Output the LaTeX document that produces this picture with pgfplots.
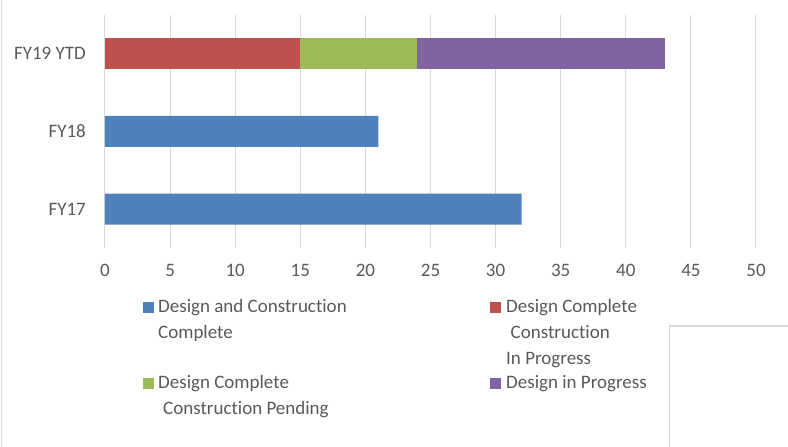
\documentclass[border=0pt]{standalone}
\usepackage{fontspec}
\setmainfont{Carlito}[Ligatures=CommonOff]
\usepackage{pgfplots}
\pgfplotsset{compat=1.18}
\definecolor{cBlue}{HTML}{4F81BD}
\definecolor{cRed}{HTML}{C0504D}
\definecolor{cGreen}{HTML}{9BBB59}
\definecolor{cPurple}{HTML}{8064A2}
\definecolor{gridc}{HTML}{D9D9D9}
\definecolor{textc}{HTML}{595959}
\begin{document}
\begin{tikzpicture}[x=1pt,y=1pt,font=\fontsize{19}{25.7}\selectfont]
\path[use as bounding box] (0,0) rectangle (788,447);
\draw[gridc, line width=1.2pt] (1.5,0) -- (1.5,447);
\draw[gridc, line width=1.5pt] (669.5,0) -- (669.5,121) -- (790,121);
\begin{axis}[
  at={(105pt,199pt)}, anchor=south west,
  scale only axis, width=651pt, height=233pt,
  xmin=0, xmax=50, ymin=-0.5, ymax=2.5,
  xbar stacked, bar width=31pt,
  xtick={0,5,...,50}, ytick={0,1,2},
  yticklabels={FY17,FY18,FY19 YTD},
  xmajorgrids, grid style={gridc, line width=1pt},
  axis line style={draw=none}, tick style={draw=none},
  ticklabel style={font=\fontsize{19}{22}\selectfont, text=textc, inner sep=0pt},
  xticklabel style={anchor=north, yshift=-16pt},
  yticklabel style={anchor=east, xshift=-19pt},
  /pgf/number format/assume math mode=true,
]
\addplot[fill=cBlue, draw=none] coordinates {(32,0) (21,1) (0,2)};
\addplot[fill=cRed, draw=none] coordinates {(0,0) (0,1) (15,2)};
\addplot[fill=cGreen, draw=none] coordinates {(0,0) (0,1) (9,2)};
\addplot[fill=cPurple, draw=none] coordinates {(0,0) (0,1) (19,2)};
\end{axis}
% legend
\fill[cBlue] (143,134) rectangle (154,145);
\node[anchor=base west, inner sep=0pt, text=textc] at (158,134)
  {\begin{tabular}[t]{@{}l@{}}Design and Construction\\Complete\end{tabular}};
\fill[cRed] (490,134) rectangle (501,145);
\node[anchor=base west, inner sep=0pt, text=textc] at (506,134)
  {\begin{tabular}[t]{@{}l@{}}Design Complete\\\hspace{4.5pt}Construction\\In Progress\end{tabular}};
\fill[cGreen] (143,58) rectangle (154,69);
\node[anchor=base west, inner sep=0pt, text=textc] at (158,58)
  {\begin{tabular}[t]{@{}l@{}}Design Complete\\\hspace{5pt}Construction Pending\end{tabular}};
\fill[cPurple] (490,58) rectangle (501,69);
\node[anchor=base west, inner sep=0pt, text=textc] at (506,58)
  {\begin{tabular}[t]{@{}l@{}}Design in Progress\end{tabular}};
\end{tikzpicture}
\end{document}
